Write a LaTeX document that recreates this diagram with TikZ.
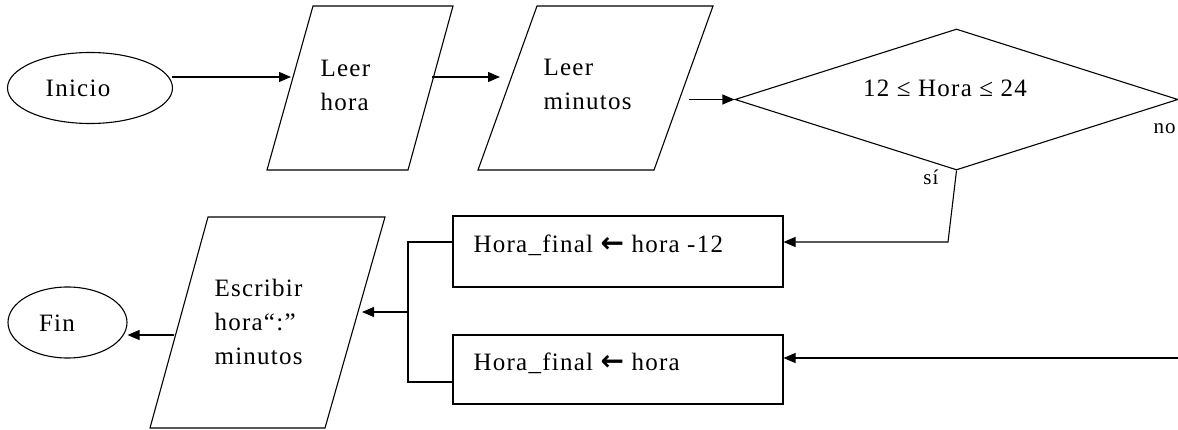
\documentclass[tikz,border=0pt]{standalone}
\usepackage{fontspec}
\setmainfont{Liberation Serif}[LetterSpace=5]
\newfontfamily\arrowfont{DejaVu Sans}
\newcommand{\larr}{{\arrowfont\bfseries\fontsize{28}{34}\selectfont ←}}
\usetikzlibrary{shapes.geometric,arrows.meta}
\begin{document}
\begin{tikzpicture}[x=1pt,y=-1pt,line width=1.1pt,
  fshape/.style={draw,line width=1.1pt,inner sep=0pt},
  lbl/.style={font=\fontsize{25}{34}\selectfont,inner sep=0pt,align=left,anchor=west},
  small/.style={font=\fontsize{21}{22}\selectfont,inner sep=0pt},
  arr/.style={-{Triangle[length=12pt,width=10pt]},line width=1.1pt}]
\path[use as bounding box] (0,0) rectangle (1178,430);
\fill[white] (0,0) rectangle (1178,430);
\clip (0,0) rectangle (1178,430);

% Inicio
\node[fshape,ellipse,minimum width=165pt,minimum height=71pt] (ini) at (90,88) {};
\node[lbl,anchor=center] (tini) at (78,88) {Inicio};

% Leer hora
\coordinate (lh1) at (313,6);
\coordinate (lh2) at (453,6);
\coordinate (lh3) at (408,170);
\coordinate (lh4) at (267,170);
\draw (lh1) -- (lh2) -- (lh3) -- (lh4) -- cycle;
\node[lbl] (tlh) at (320,85) {Leer\\hora};

% Leer minutos
\coordinate (lm1) at (537,6);
\coordinate (lm2) at (713,6);
\coordinate (lm3) at (654,170);
\coordinate (lm4) at (478,170);
\draw (lm1) -- (lm2) -- (lm3) -- (lm4) -- cycle;
\node[lbl] (tlm) at (543,84) {Leer\\minutos};

% decision
\node[fshape,diamond,minimum width=443pt,minimum height=141pt] (dec) at (956.5,99.5) {};
\node[lbl,anchor=center] (tdec) at (945,88) {12 ≤ Hora ≤ 24};
\node[small,anchor=west] (no) at (1153,129) {no};
\node[small] (si) at (931,177) {sí};

% boxes
\node[fshape,rectangle,minimum width=330pt,minimum height=71pt] (b1) at (618,251.5) {};
\node[lbl] (tb1) at (473,245) {Hora\_final \larr{} hora -12};
\node[fshape,rectangle,minimum width=330pt,minimum height=69pt] (b2) at (618,369.5) {};
\node[lbl] (tb2) at (473,363) {Hora\_final \larr{} hora};

% Escribir
\coordinate (es1) at (208,217);
\coordinate (es2) at (385,217);
\coordinate (es3) at (325,428);
\coordinate (es4) at (150,428);
\draw (es1) -- (es2) -- (es3) -- (es4) -- cycle;
\node[lbl] (tes) at (214,322) {Escribir\\hora“:”\\minutos};

% Fin
\node[fshape,ellipse,minimum width=119pt,minimum height=71pt] (fin) at (67.5,322.5) {};
\node[lbl,anchor=center] (tfin) at (57,323) {Fin};

% connectors
\coordinate (a1s) at (172,77);
\coordinate (a1e) at (291,77);
\draw[arr] (a1s) -- (a1e);
\coordinate (a2s) at (432,77);
\coordinate (a2e) at (500,77);
\draw[arr] (a2s) -- (a2e);
\coordinate (a3s) at (689,99.5);
\draw[arr] (a3s) -- (dec.west);

\coordinate (d1) at (948,242);
\draw[arr] (dec.south) -- (d1) -- (b1.east |- d1);
\coordinate (nor) at (1180,358);
\draw[arr] (nor) -- (b2.east |- nor);

\coordinate (br1) at (408,242);
\coordinate (br2) at (408,382);
\draw (b1.west |- br1) -- (br1) -- (br2) -- (b2.west |- br2);
\coordinate (brm) at (408,312);
\coordinate (ein) at (362,312);
\draw[arr] (brm) -- (ein);

\coordinate (eout) at (174,335);
\draw[arr] (eout) -- (fin.east |- eout);
\end{tikzpicture}
\end{document}
